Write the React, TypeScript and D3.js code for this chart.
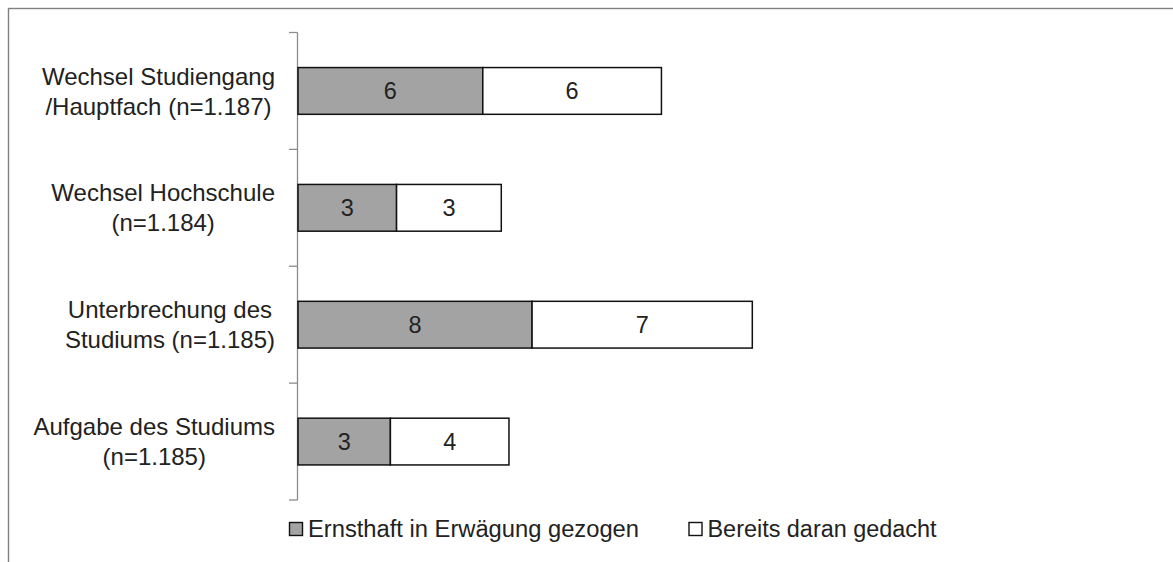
import { useEffect, useRef } from "react";
import * as d3 from "d3";

// Kategorien (Zeilen im Label)
const categories: string[][] = [
  ["Wechsel Studiengang", "/Hauptfach (n=1.187)"],
  ["Wechsel Hochschule", "(n=1.184)"],
  ["Unterbrechung des", "Studiums (n=1.185)"],
  ["Aufgabe des Studiums", "(n=1.185)"],
];

const seriesNames = ["Ernsthaft in Erwägung gezogen", "Bereits daran gedacht"];
const ernsthaft = [6.0, 3.2, 7.6, 3.0];
const gedacht = [5.8, 3.4, 7.15, 3.85];

export default function App() {
  const ref = useRef<SVGSVGElement>(null);

  useEffect(() => {
    if (!ref.current) return;
    const svg = d3.select(ref.current);
    svg.selectAll("*").remove();

    const font = "'Liberation Sans', Arial, sans-serif";
    const textColor = "#222";

    // Rahmen
    svg
      .append("rect")
      .attr("x", 8.5)
      .attr("y", 8.5)
      .attr("width", 1200)
      .attr("height", 600)
      .attr("fill", "white")
      .attr("stroke", "#808080")
      .attr("stroke-width", 1.4);

    const keys = categories.map((_, i) => String(i));
    const y = d3
      .scaleBand<string>()
      .domain(keys)
      .range([32.5, 500])
      .paddingInner(0.6)
      .paddingOuter(0.3);

    const x = d3.scaleLinear().domain([0, 20]).range([298, 914]);

    // Achse mit Ticks an den Bandgrenzen
    const axis = svg.append("g").attr("stroke", "#8c8c8c").attr("stroke-width", 1.3);
    axis.append("line").attr("x1", 297.5).attr("x2", 297.5).attr("y1", 32.5).attr("y2", 500);
    const step = y.step();
    d3.range(categories.length + 1).forEach((i) => {
      const yy = 32.5 + i * step;
      axis.append("line").attr("x1", 289).attr("x2", 297.5).attr("y1", yy).attr("y2", yy);
    });

    // Balken
    const stack = categories.map((_, i) => [
      { x0: 0, x1: ernsthaft[i], v: ernsthaft[i], fill: "#a3a3a3" },
      { x0: ernsthaft[i], x1: ernsthaft[i] + gedacht[i], v: gedacht[i], fill: "#ffffff" },
    ]);

    stack.forEach((segs, i) => {
      const g = svg.append("g");
      segs.forEach((s) => {
        g.append("rect")
          .attr("x", x(s.x0))
          .attr("y", y(String(i))!)
          .attr("width", x(s.x1) - x(s.x0))
          .attr("height", y.bandwidth())
          .attr("fill", s.fill)
          .attr("stroke", "#111")
          .attr("stroke-width", 1.5);
        g.append("text")
          .attr("x", (x(s.x0) + x(s.x1)) / 2)
          .attr("y", y(String(i))! + y.bandwidth() / 2)
          .attr("dy", "0.36em")
          .attr("text-anchor", "middle")
          .attr("font-family", font)
          .attr("font-size", 23.5)
          .attr("fill", textColor)
          .text(Math.round(s.v));
      });
    });

    // Kategorie-Beschriftungen (zentriert, rechtsbündig als Block)
    categories.forEach((lines, i) => {
      const cy = y(String(i))! + y.bandwidth() / 2;
      const t = svg
        .append("text")
        .attr("font-family", font)
        .attr("font-size", 24)
        .attr("fill", textColor)
        .attr("text-anchor", "middle");
      const spans = lines.map((l, j) =>
        t
          .append("tspan")
          .attr("y", cy + (j - (lines.length - 1) / 2) * 30)
          .attr("dy", "0.36em")
          .text(l)
      );
      const maxW = d3.max(spans, (s) => (s.node() as SVGTSpanElement).getComputedTextLength()) || 0;
      spans.forEach((s) => s.attr("x", 275 - maxW / 2));
    });

    // Legende
    const legend = [
      { name: seriesNames[0], fill: "#a3a3a3", x: 289, w: 331 },
      { name: seriesNames[1], fill: "#ffffff", x: 688.5, w: 229 },
    ];
    legend.forEach((d) => {
      svg
        .append("rect")
        .attr("x", d.x + 0.5)
        .attr("y", 522.5)
        .attr("width", 13)
        .attr("height", 13)
        .attr("fill", d.fill)
        .attr("stroke", "#111")
        .attr("stroke-width", 1.4);
      svg
        .append("text")
        .attr("x", d.x + 19)
        .attr("y", 536.5)
        .attr("font-family", font)
        .attr("font-size", 23.5)
        .attr("fill", textColor)
        .attr("textLength", d.w)
        .attr("lengthAdjust", "spacingAndGlyphs")
        .text(d.name);
    });
  }, []);

  return (
    <svg
      ref={ref}
      width={1173}
      height={562}
      style={{ position: "absolute", left: 0, top: 0 }}
    />
  );
}
